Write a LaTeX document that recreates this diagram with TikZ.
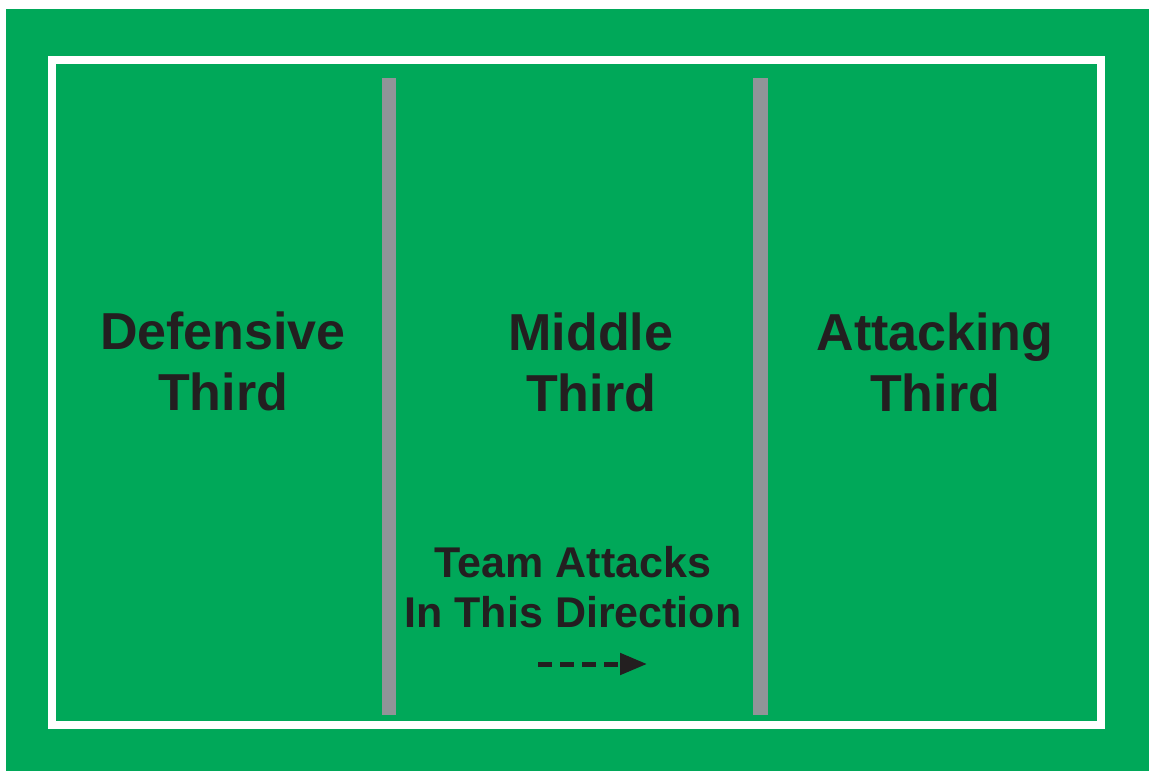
\documentclass[tikz,border=0pt]{standalone}
\usepackage{fontspec}
\setmainfont{Liberation Sans}
\usetikzlibrary{arrows.meta}

\definecolor{pitchgreen}{RGB}{0,168,89}
\definecolor{linegray}{RGB}{145,148,152}
\definecolor{inkblack}{RGB}{35,31,32}

\begin{document}
\begin{tikzpicture}[x=1pt,y=-1pt]

  \useasboundingbox (0,0) rectangle (1149,771);

  % node styles
  \tikzstyle{Zone}=[
  anchor=base,
  font=\fontsize{52}{61}\selectfont\bfseries,
  text=inkblack,
  align=center,
  inner sep=0pt]

  \tikzstyle{Note}=[
  anchor=base,
  font=\fontsize{43}{50}\selectfont\bfseries,
  text=inkblack,
  align=center,
  inner sep=0pt]

  \tikzstyle{Divider}=[fill=linegray]

  % pitch
  \fill[white] (0,0) rectangle (1149,771);
  \fill[pitchgreen] (6,9) rectangle (1149,771);
  \draw[white,line width=7.5pt] (52,60) rectangle (1101,725);
  \fill[Divider] (382,78) rectangle (396,715);
  \fill[Divider] (753,78) rectangle (768,715);

  % zones (base = last line)
  \node[Zone] (D) at (223,410) {Defensive\\Third};
  \node[Zone] (M) at (591,411) {Middle\\Third};
  \node[Zone] (A) at (935,411) {Attacking\\Third};

  \node[Note] (T) at (573,627) {Team Attacks\\In This Direction};

  \coordinate (S) at (538,664);
  \coordinate (E) at (647,664);
  \draw[inkblack,line width=5pt,dash pattern=on 14pt off 8pt,
        -{Triangle[length=27pt,width=21pt]}] (S) -- (E);

\end{tikzpicture}
\end{document}
